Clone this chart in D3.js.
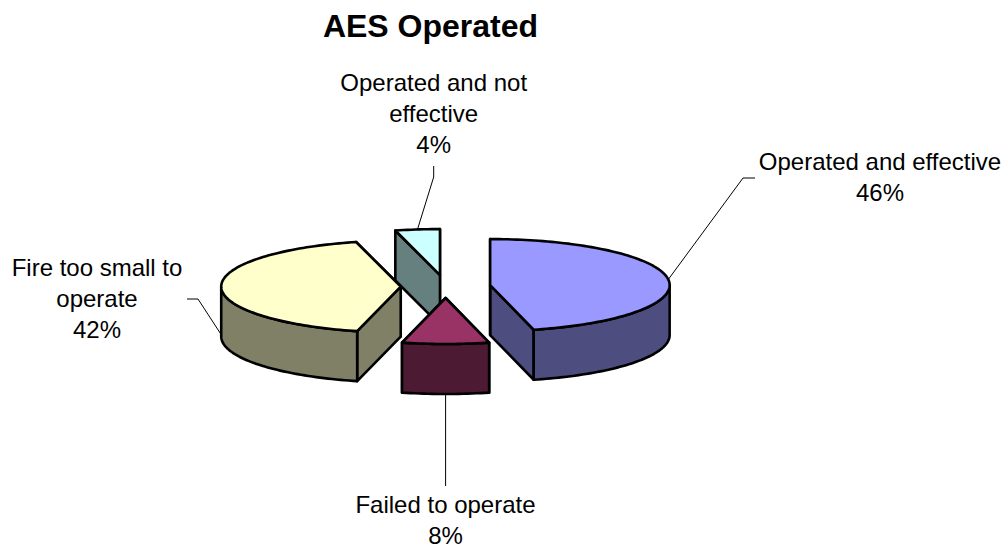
<!DOCTYPE html>
<html>
<head>
<meta charset="utf-8">
<script src="https://cdn.jsdelivr.net/npm/d3@7"></script>
<style>
  html, body { margin: 0; padding: 0; background: #fff; }
  svg { display: block; }
  text { font-family: "Liberation Sans", Arial, sans-serif; fill: #000; }
</style>
</head>
<body>
<svg id="chart"></svg>
<script>
// Chart data
const categories = ['Operated and effective', 'Failed to operate', 'Fire too small to operate', 'Operated and not effective'];
const values = [46.1, 7.8, 42.1, 4];
const labelLines = [
  ['Operated and effective'],
  ['Failed to operate'],
  ['Fire too small to', 'operate'],
  ['Operated and not', 'effective']
];
const title = 'AES Operated';

// Colours per slice
const topColors = ['#9999ff', '#993366', '#ffffcc', '#ccffff'];
const sideColors = ['#4d4d80', '#4d1a33', '#808066', '#668080'];

const width = 1005, height = 546;
const center = { x: 445.6, y: 286.5 };
const rx = 179.5, ry = 46, depth = 50, explode = 0.25;

// Where each label sits, and the elbow of its leader line
const labelPos = [
  { x: 880, y: 170 },
  { x: 445.5, y: 513 },
  { x: 97, y: 276 },
  { x: 433.7, y: 91 }
];
const leaderEnds = [
  [[743, 178], [755, 178]],
  [[445.6, 486]],
  [[198, 299], [187, 299]],
  [[433.7, 177], [433.7, 166]]
];
const leaderDrop = [0, depth, 48, 0];

const svg = d3.select('#chart').attr('width', width).attr('height', height);

const xScale = d3.scaleLinear().domain([-1, 1]).range([center.x - rx, center.x + rx]);
const yScale = d3.scaleLinear().domain([-1, 1]).range([center.y - ry, center.y + ry]);

const arcs = d3.pie().sort(null).startAngle(0).endAngle(2 * Math.PI)(values);

// Offset the slice along its bisector, then project onto the tilted ellipse
function project(d, r, angle, drop) {
  const mid = (d.startAngle + d.endAngle) / 2;
  const ux = explode * Math.sin(mid) + r * Math.sin(angle);
  const uy = -explode * Math.cos(mid) - r * Math.cos(angle);
  return [xScale(ux), yScale(uy) + drop];
}

function arcPoints(d, a0, a1, drop) {
  const n = Math.max(2, Math.ceil((a1 - a0) * 40));
  return d3.range(n + 1).map(i => project(d, 1, a0 + (a1 - a0) * i / n, drop));
}

const line = d3.line();
const closed = pts => line(pts) + 'Z';

function drawSlice(g, d, i) {
  const side = sideColors[i];
  const style = sel => sel
    .attr('stroke', '#000')
    .attr('stroke-width', 2.6)
    .attr('stroke-linejoin', 'round');

  // Radial walls, the hidden parts get covered by the top and outer wall
  [d.endAngle, d.startAngle].forEach(a => {
    const apex = project(d, 0, a, 0), rim = project(d, 1, a, 0);
    g.append('path')
      .attr('d', closed([apex, rim, [rim[0], rim[1] + depth], [apex[0], apex[1] + depth]]))
      .attr('fill', side)
      .call(style);
  });

  // Outer wall, only the front half of the rim shows
  const a0 = Math.max(d.startAngle, Math.PI / 2);
  const a1 = Math.min(d.endAngle, Math.PI * 1.5);
  if (a1 > a0) {
    g.append('path')
      .attr('d', closed(arcPoints(d, a0, a1, 0).concat(arcPoints(d, a0, a1, depth).reverse())))
      .attr('fill', side)
      .call(style);
  }

  // Top face
  g.append('path')
    .attr('d', closed([project(d, 0, d.startAngle, 0)].concat(arcPoints(d, d.startAngle, d.endAngle, 0))))
    .attr('fill', topColors[i])
    .call(style);
}

// Back to front
const pieGroup = svg.append('g');
[3, 2, 0, 1].forEach(i => drawSlice(pieGroup.append('g').attr('class', 'slice'), arcs[i], i));

// Leader lines
arcs.forEach((d, i) => {
  const mid = (d.startAngle + d.endAngle) / 2;
  svg.append('path')
    .attr('d', line([project(d, 1, mid, leaderDrop[i])].concat(leaderEnds[i])))
    .attr('fill', 'none')
    .attr('stroke', '#000')
    .attr('stroke-width', 1);
});

// Labels
const total = d3.sum(values);
arcs.forEach((d, i) => {
  const lines = labelLines[i].concat(`${Math.round(d.value / total * 100)}%`);
  svg.append('text')
    .attr('class', 'label')
    .attr('text-anchor', 'middle')
    .style('font-size', '24px')
    .selectAll('tspan')
    .data(lines)
    .enter()
    .append('tspan')
    .attr('x', labelPos[i].x)
    .attr('y', (t, j) => labelPos[i].y + j * 31)
    .text(t => t);
});

svg.append('text')
  .attr('x', 430.5)
  .attr('y', 37)
  .attr('text-anchor', 'middle')
  .style('font-size', '32px')
  .style('font-weight', 'bold')
  .text(title);
</script>
</body>
</html>
